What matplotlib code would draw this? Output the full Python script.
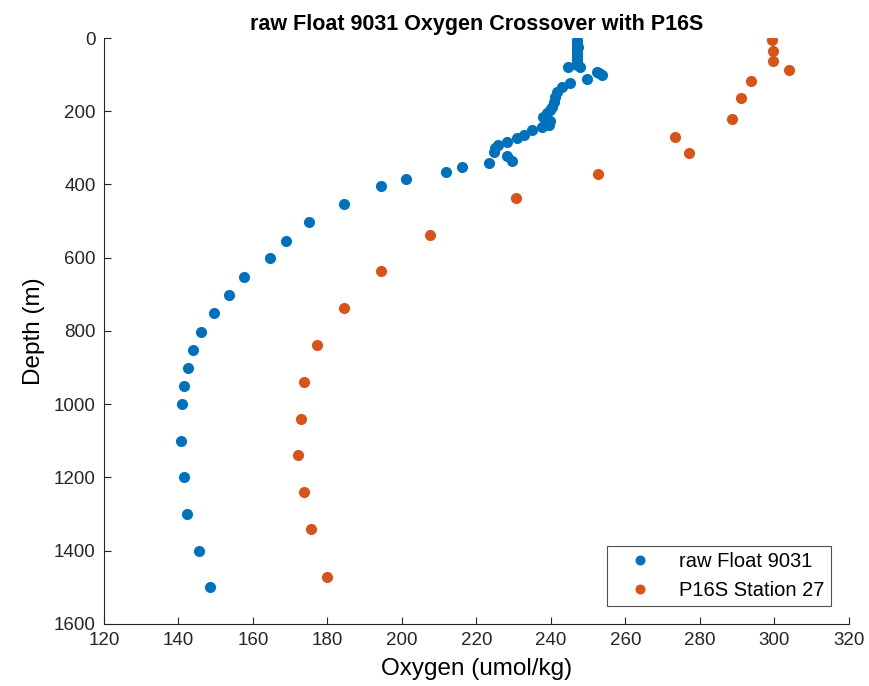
import matplotlib
matplotlib.use("Agg")
import matplotlib.pyplot as plt

# raw float profile (oxygen umol/kg, depth m)
float_oxy = [247.0, 247.1, 246.9, 247.0, 247.2, 247.0, 246.9, 247.1, 247.0, 247.0, 247.1, 246.9, 247.0, 247.1, 247.0,
             244.7, 247.8, 252.3, 253.0, 253.7, 249.6, 245.2, 242.9, 241.6, 241.0, 240.7, 240.2, 239.8, 238.9, 238.0,
             239.8, 239.5, 237.6, 234.9, 232.8, 230.8, 228.2, 225.9, 225.0, 224.8, 228.2, 229.5, 223.4, 216.2, 211.9,
             201.0, 194.5, 184.5, 175.0, 169.0, 164.5, 157.5, 153.5, 149.5, 146.0, 144.0, 142.5, 141.5, 141.0, 140.7,
             141.4, 142.3, 145.6, 148.5]
float_depth = [5, 10, 15, 20, 25, 30, 35, 40, 45, 50, 55, 60, 65, 70, 75,
               78, 78, 92, 96, 101, 113, 124, 133, 147, 160, 174, 188, 197, 206, 217,
               226, 238, 244, 251, 265, 274, 283, 292, 301, 310, 322, 336, 342, 353, 365,
               385, 403, 453, 503, 553, 602, 652, 702, 752, 802, 852, 902, 950, 1000, 1100,
               1200, 1300, 1400, 1500]

# P16S station 27 bottle data
ship_oxy = [299.4, 299.5, 299.6, 303.8, 293.7, 291.1, 288.5, 273.3, 277.0, 252.7, 230.7, 207.5,
            194.4, 184.5, 177.3, 173.8, 172.8, 172.0, 173.6, 175.5, 179.9]
ship_depth = [6, 36, 62, 88, 117, 165, 221, 269, 315, 370, 436, 537,
              636, 736, 837, 938, 1040, 1138, 1240, 1341, 1471]

plt.rcParams['font.family'] = ['Liberation Sans', 'DejaVu Sans']

fig = plt.figure(figsize=(8.69, 6.86), dpi=100)
ax = fig.add_axes([0.1195, 0.0904, 0.8575, 0.8542])

ax.plot(float_oxy, float_depth, 'o', color='#0072BD', markersize=8, markeredgewidth=0, label='raw Float 9031')
ax.plot(ship_oxy, ship_depth, 'o', color='#D95319', markersize=8, markeredgewidth=0, label='P16S Station 27')

ax.set_xlim(120, 320)
ax.set_ylim(1600, 0)
ax.set_xticks(range(120, 321, 20))
ax.set_yticks(range(0, 1601, 200))

ax.spines['top'].set_visible(False)
ax.spines['right'].set_visible(False)
for s in ['left', 'bottom']:
    ax.spines[s].set_color('#262626')
    ax.spines[s].set_linewidth(0.8)
ax.tick_params(direction='in', length=5, width=0.8, colors='#262626', labelsize=13.5, pad=6)

ax.set_title('raw Float 9031 Oxygen Crossover with P16S', fontsize=15.5, fontweight='bold', pad=6)
ax.set_xlabel('Oxygen (umol/kg)', fontsize=17.5, labelpad=6)
ax.set_ylabel('Depth (m)', fontsize=17.5, labelpad=6)

leg = ax.legend(loc='lower right', fontsize=14.5, frameon=True, fancybox=False,
                edgecolor='#262626', handlelength=2.7, handletextpad=0.6,
                borderpad=0.3, borderaxespad=0.9, markerscale=0.9)
leg.get_frame().set_linewidth(0.8)

fig.savefig('out.png', dpi=100)
